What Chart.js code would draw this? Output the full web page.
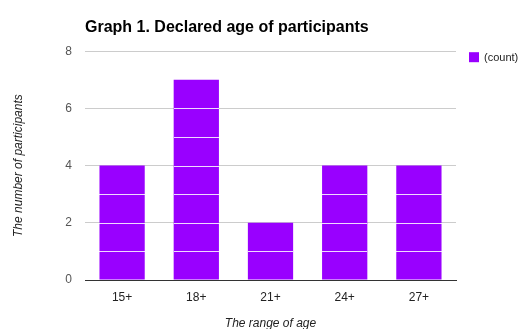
<!DOCTYPE html>
<html>
<head>
<meta charset="utf-8">
<script src="https://cdn.jsdelivr.net/npm/chart.js@4"></script>
<style>
  html, body { margin: 0; padding: 0; background: #fff; }
  canvas { display: block; }
</style>
</head>
<body>
<canvas id="ageChart" width="523" height="329"></canvas>
<script>
var ageRanges = ["15+", "18+", "21+", "24+", "27+"];
var counts = [4, 7, 2, 4, 4];
var seriesName = "(count)";
var barColor = "#9900ff";

// white stripes across bars at every whole unit, like the original
var barStripes = {
  id: "barStripes",
  afterDatasetsDraw: function(chart) {
    var ctx = chart.ctx;
    var y = chart.scales.y;
    var meta = chart.getDatasetMeta(0);
    ctx.save();
    ctx.strokeStyle = "rgba(255,255,255,0.85)";
    ctx.lineWidth = 1;
    meta.data.forEach(function(bar, i) {
      var left = Math.round(bar.x - bar.width / 2);
      var right = Math.round(bar.x + bar.width / 2);
      for (var v = 1; v < counts[i]; v++) {
        var py = Math.round(y.getPixelForValue(v)) + 0.5;
        ctx.beginPath();
        ctx.moveTo(left, py);
        ctx.lineTo(right, py);
        ctx.stroke();
      }
    });
    ctx.restore();
  }
};

var sideLegend = {
  id: "sideLegend",
  afterDraw: function(chart) {
    var ctx = chart.ctx;
    var top = chart.chartArea.top;
    ctx.save();
    ctx.fillStyle = barColor;
    ctx.fillRect(469, top + 1, 10, 10);
    ctx.fillStyle = "#222";
    ctx.font = "11px 'Liberation Sans', Arial, sans-serif";
    ctx.textBaseline = "middle";
    ctx.fillText(seriesName, 484, top + 6.5);
    ctx.restore();
  }
};

new Chart("ageChart", {
  type: "bar",
  data: {
    labels: ageRanges,
    datasets: [{
      label: seriesName,
      data: counts,
      backgroundColor: barColor,
      categoryPercentage: 1,
      barPercentage: 0.61
    }]
  },
  options: {
    responsive: false,
    animation: false,
    layout: { padding: { left: 0, right: 67, top: 0, bottom: 0 } },
    plugins: {
      legend: { display: false },
      tooltip: { enabled: false },
      title: {
        display: true,
        text: "Graph 1. Declared age of participants",
        align: "start",
        fullSize: false,
        color: "#000",
        font: { family: "'Liberation Sans', Arial, sans-serif", size: 16, weight: "bold" },
        padding: { top: 18, bottom: 14 }
      }
    },
    scales: {
      x: {
        grid: { display: false, drawTicks: false },
        border: { display: true, color: "#333" },
        ticks: {
          color: "#222",
          padding: 10,
          font: { family: "'Liberation Sans', Arial, sans-serif", size: 12 }
        },
        title: {
          display: true,
          text: "The range of age",
          color: "#222",
          padding: { top: 0, bottom: -2 },
          font: { family: "'Liberation Sans', Arial, sans-serif", size: 12, style: "italic" }
        },
        afterFit: function(scale) { scale.height = 49; }
      },
      y: {
        min: 0,
        max: 8,
        grid: {
          drawTicks: false,
          color: function(c) { return c.tick && c.tick.value === 0 ? "#333" : "#cccccc"; }
        },
        border: { display: false },
        ticks: {
          stepSize: 2,
          color: "#555",
          padding: 13,
          font: { family: "'Liberation Sans', Arial, sans-serif", size: 12 }
        },
        title: {
          display: true,
          text: "The number of participants",
          color: "#222",
          padding: { top: 11, bottom: 0 },
          font: { family: "'Liberation Sans', Arial, sans-serif", size: 12, style: "italic" }
        },
        afterFit: function(scale) { scale.width = 85; }
      }
    }
  },
  plugins: [barStripes, sideLegend]
});
</script>
</body>
</html>
